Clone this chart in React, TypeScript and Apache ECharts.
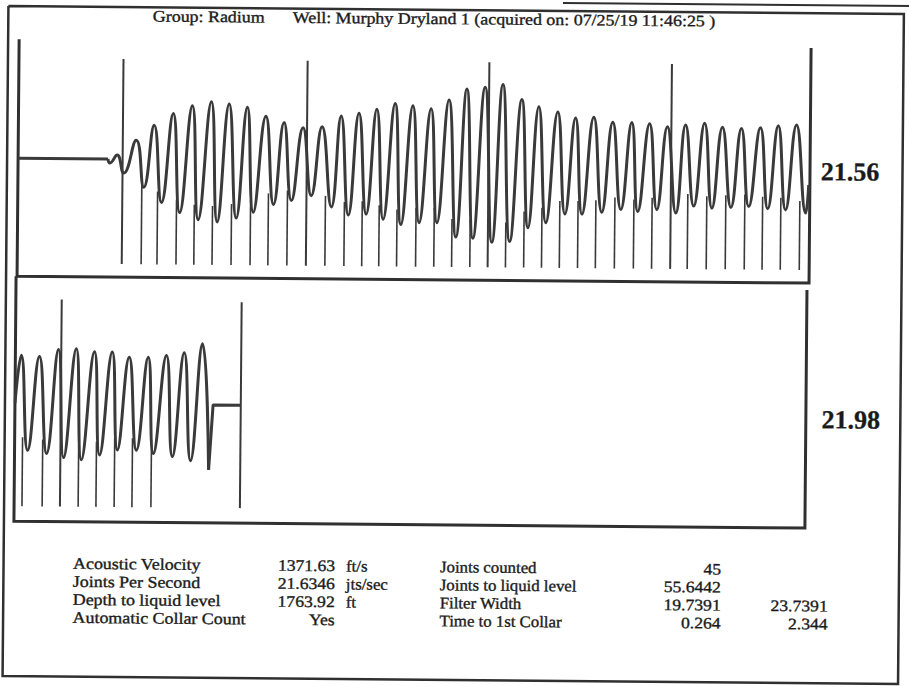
import React, { useEffect, useRef } from "react";
import * as echarts from "echarts";

// ---- data (time in seconds, amplitude in arbitrary units; baseline = 0) ----
const topFlat: [number, number][] = [[0, 0], [0.227, 0]];
const topWave: [number, number][] = [
  [0.227, 0], [0.232, -4], [0.25, 4], [0.267, -14], [0.298, 19], [0.318, -28], [0.343, 34],
  [0.363, -43], [0.391, 46], [0.409, -53], [0.439, 54], [0.456, -60], [0.487, 58], [0.504, -62],
  [0.532, 56], [0.552, -58], [0.578, 53], [0.595, -52], [0.625, 44], [0.646, -44], [0.671, 38],
  [0.691, -40], [0.719, 33], [0.741, -35], [0.767, 34], [0.792, -46], [0.815, 45], [0.835, -54],
  [0.86, 48], [0.88, -53], [0.905, 52], [0.923, -58], [0.951, 58], [0.968, -63], [0.996, 56],
  [1.014, -61], [1.042, 53], [1.059, -61], [1.087, 62], [1.107, -75], [1.132, 73], [1.15, -76],
  [1.178, 75], [1.198, -80], [1.223, 78], [1.243, -79], [1.271, 63], [1.289, -65], [1.314, 56],
  [1.334, -60], [1.362, 51], [1.382, -51], [1.407, 45], [1.425, -51], [1.453, 46], [1.475, -49],
  [1.501, 41], [1.523, -46], [1.549, 41], [1.566, -48], [1.594, 40], [1.614, -46], [1.639, 37],
  [1.662, -49], [1.685, 39], [1.707, -42], [1.733, 41], [1.753, -44], [1.778, 37], [1.801, -43],
  [1.826, 36], [1.846, -42], [1.874, 37], [1.894, -44], [1.919, 39], [1.939, -45], [1.965, 40],
  [1.99, -48], [1.997, -20],
];
// collar markers: [time, top of marker]
const topMarkers: [number, number][] = [
  [0.264, 100], [0.313, -20], [0.353, -32], [0.401, -40], [0.446, -45], [0.492, -46], [0.54, -44],
  [0.588, -40], [0.633, -33], [0.681, -30], [0.729, 100], [0.777, -35], [0.825, -41], [0.87, -40],
  [0.913, -44], [0.958, -48], [1.006, -46], [1.052, -46], [1.097, -57], [1.143, -57], [1.188, 100],
  [1.233, -60], [1.279, -49], [1.324, -45], [1.369, -38], [1.415, -38], [1.46, -37], [1.508, -34],
  [1.556, -36], [1.602, -34], [1.649, 100], [1.692, -30], [1.74, -32], [1.788, -31], [1.836, -30],
  [1.881, -32], [1.927, -33], [1.975, -36],
];
const topMarkerBase = -105;

const bottomWave: [number, number][] = [
  [2.0, 0], [2.015, 48], [2.033, -47], [2.061, 47], [2.081, -50], [2.109, 54], [2.124, -54],
  [2.154, 55], [2.169, -56], [2.2, 52], [2.215, -51], [2.245, 52], [2.26, -46], [2.288, 47],
  [2.308, -46], [2.336, 47], [2.351, -49], [2.382, 49], [2.399, -52], [2.427, 52], [2.445, -56],
  [2.473, 61], [2.491, -65],
];
const bottomTail: [number, number][] = [[2.491, -65], [2.501, 0], [2.571, 0]];
const bottomMarkers: [number, number][] = [
  [2.02, -34], [2.071, -36], [2.116, 104], [2.162, -41], [2.207, -38], [2.253, -34], [2.298, -34],
  [2.346, -36], [2.571, 103],
];
const bottomMarkerBase = -103;

const panelValues = ["21.56", "21.98"];
const titleGroup = "Group: Radium";
const titleWell = "Well: Murphy Dryland 1 (acquired on: 07/25/19 11:46:25 )";

const leftLabels = ["Acoustic Velocity", "Joints Per Second", "Depth to liquid level", "Automatic Collar Count"];
const leftValues = ["1371.63", "21.6346", "1763.92", "Yes"];
const leftUnits = ["ft/s", "jts/sec", "ft", ""];
const rightLabels = ["Joints counted", "Joints to liquid level", "Filter Width", "Time to 1st Collar"];
const rightValues = ["45", "55.6442", "19.7391", "0.264"];
const rightValues2 = ["", "", "23.7391", "2.344"];

const INK = "#303030";
const TEXT = "#1a1a1a";
const FONT = "'Liberation Serif', 'DejaVu Serif', serif";

function markerSeries(data: [number, number][], base: number, idx: number) {
  return {
    type: "custom",
    xAxisIndex: idx,
    yAxisIndex: idx,
    clip: false,
    z: 1,
    data: data.map(([t, top]) => [t, top, base]),
    encode: { x: 0, y: [1, 2] },
    renderItem: (_p: any, api: any) => {
      const t = api.value(0);
      const top = api.value(1);
      const a = api.coord([t, api.value(2)]);
      const b = api.coord([t, top]);
      return {
        type: "line",
        shape: { x1: a[0], y1: a[1], x2: b[0], y2: b[1] },
        style: { stroke: "#3a3a3a", lineWidth: top > 50 ? 2 : 1.6 },
      };
    },
  };
}

export default function App() {
  const ref = useRef<HTMLDivElement>(null);
  useEffect(() => {
    if (!ref.current) return;
    const chart = echarts.init(ref.current, undefined, { renderer: "svg" });
    const rowsY = [567, 585, 603, 621];
    const txt = (x: number, y: number, s: string, align: string, size = 16, sx = 1.08, extra: any = {}) => ({
      type: "text",
      x,
      y,
      scaleX: sx,
      silent: true,
      style: {
        text: s,
        fill: TEXT,
        stroke: TEXT,
        lineWidth: 0.35,
        font: `${size}px ${FONT}`,
        lineHeight: size,
        textAlign: align,
        textVerticalAlign: "middle",
        ...extra,
      },
    });
    const graphic: any[] = [
      // outer frame
      { type: "polyline", shape: { points: [[5.5, 10], [901, 10], [901, 680], [5.5, 680], [5.5, 10]] }, style: { stroke: INK, lineWidth: 2.5, fill: "none" } },
      { type: "line", shape: { x1: 560, y1: 2, x2: 909, y2: 2 }, style: { stroke: INK, lineWidth: 2 } },
      // top panel frame (no top side)
      { type: "polyline", shape: { points: [[16.5, 43], [16.5, 280], [808.5, 280], [808.5, 45]] }, style: { stroke: INK, lineWidth: 3, fill: "none" } },
      // bottom panel frame
      { type: "polyline", shape: { points: [[15.5, 280], [15.5, 525], [806.5, 525], [806.5, 287]] }, style: { stroke: INK, lineWidth: 3, fill: "none" } },
      txt(150, 19, titleGroup, "left", 16, 1.12),
      txt(290, 19, titleWell, "left", 16, 1.12),
      txt(848.5, 168.5, panelValues[0], "center", 26, 1, { font: `bold 26px ${FONT}`, lineHeight: 26, lineWidth: 0.3 }),
      txt(851.5, 416.5, panelValues[1], "center", 26, 1, { font: `bold 26px ${FONT}`, lineHeight: 26, lineWidth: 0.3 }),
    ];
    rowsY.forEach((y, i) => {
      graphic.push(txt(75, y, leftLabels[i], "left", 16, 1.12));
      graphic.push(txt(337, y, leftValues[i], "right", 16, 1.1));
      if (leftUnits[i]) graphic.push(txt(348, y, leftUnits[i], "left", 16, 1.05));
      graphic.push(txt(442, y, rightLabels[i], "left", 16, 1.05));
      graphic.push(txt(723, y, rightValues[i], "right", 16, 1.1));
      if (rightValues2[i]) graphic.push(txt(830, y, rightValues2[i], "right", 16, 1.1));
    });

    const waveStyle = { color: "#3a3a3a", width: 3 };
    chart.setOption({
      animation: false,
      backgroundColor: "#ffffff",
      grid: [
        { left: 16.5, right: 909 - 808.5, top: 42, height: 238 },
        { left: 15.5, right: 909 - 806.5, top: 280, height: 245 },
      ],
      xAxis: [
        { type: "value", gridIndex: 0, min: 0, max: 2, show: false },
        { type: "value", gridIndex: 1, min: 2, max: 4, show: false },
      ],
      yAxis: [
        { type: "value", gridIndex: 0, min: -118, max: 120, show: false },
        { type: "value", gridIndex: 1, min: -118, max: 127, show: false },
      ],
      series: [
        markerSeries(topMarkers, topMarkerBase, 0),
        markerSeries(bottomMarkers, bottomMarkerBase, 1),
        { type: "line", xAxisIndex: 0, yAxisIndex: 0, data: topFlat, symbol: "none", lineStyle: waveStyle, z: 2 },
        { type: "line", xAxisIndex: 0, yAxisIndex: 0, data: topWave, symbol: "none", smooth: 0.5, lineStyle: waveStyle, z: 2 },
        { type: "line", xAxisIndex: 1, yAxisIndex: 1, data: bottomWave, symbol: "none", smooth: 0.5, lineStyle: waveStyle, z: 2 },
        { type: "line", xAxisIndex: 1, yAxisIndex: 1, data: bottomTail, symbol: "none", lineStyle: waveStyle, z: 2 },
      ],
      graphic,
    });
    return () => chart.dispose();
  }, []);
  return (
    <div
      ref={ref}
      style={{
        position: "absolute",
        left: 0,
        top: 0,
        width: 909,
        height: 686,
        transform: "rotate(0.5deg)",
        transformOrigin: "454.5px 343px",
      }}
    />
  );
}
